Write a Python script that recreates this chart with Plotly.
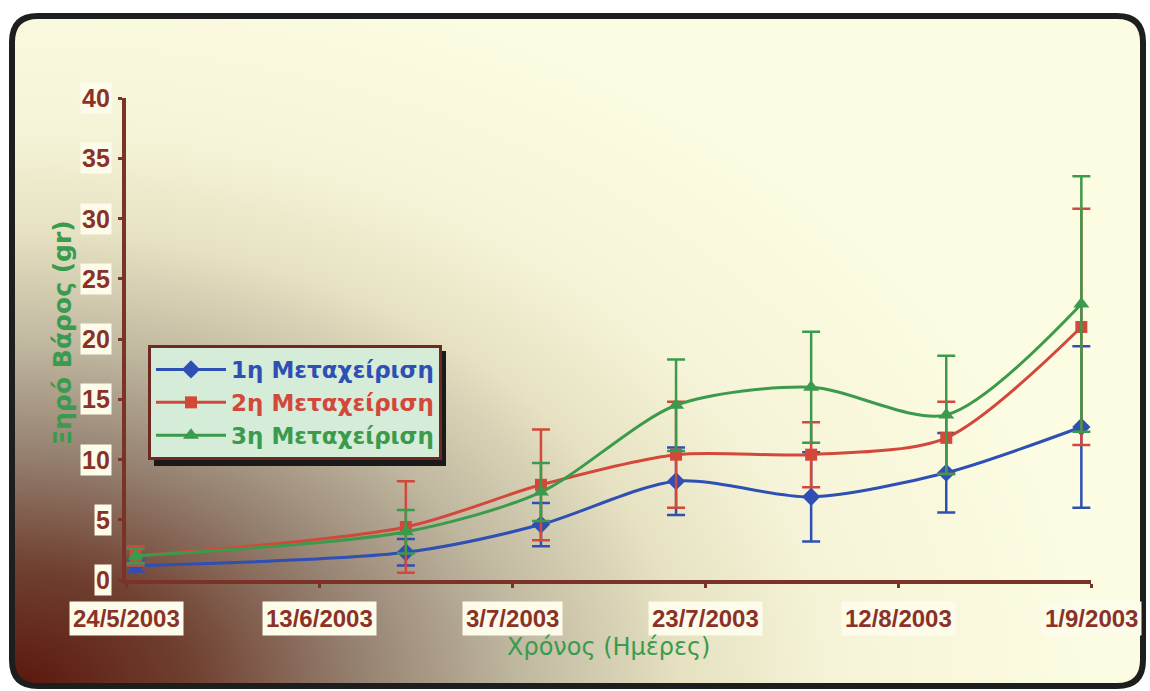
import base64
import struct
import zlib

import numpy as np
import plotly.graph_objects as go

# sampling dates and dry weight per treatment (mean, +/- error)
dates = ['2003-05-25', '2003-06-22', '2003-07-06', '2003-07-20',
         '2003-08-03', '2003-08-17', '2003-08-31']
names = ['1η Μεταχείριση', '2η Μεταχείριση', '3η Μεταχείριση']
t1 = [1.2, 2.3, 4.6, 8.2, 6.9, 8.9, 12.7]
e1 = [0.5, 1.1, 1.8, 2.8, 3.7, 3.3, 6.7]
t2 = [2.0, 4.4, 7.9, 10.4, 10.4, 11.8, 21.0]
e2 = [0.8, 3.8, 4.6, 4.4, 2.7, 3.0, 9.8]
t3 = [2.0, 4.0, 7.3, 14.5, 16.0, 13.7, 22.9]
e3 = [0.6, 1.8, 2.4, 3.8, 4.6, 4.9, 10.6]

x_ticks = ['2003-05-24', '2003-06-13', '2003-07-03', '2003-07-23', '2003-08-12', '2003-09-01']
x_labels = ['24/5/2003', '13/6/2003', '3/7/2003', '23/7/2003', '12/8/2003', '1/9/2003']
y_ticks = [0, 5, 10, 15, 20, 25, 30, 35, 40]

W, H = 1150, 691
ML, MR, MT, MB = 126, 59, 98, 111
PW, PH = W - ML - MR, H - MT - MB

AXIS = '#7b3328'
LABEL = '#8a3228'
GREEN_T = '#3a9a4e'
colors = ['#2e4fb4', '#d2483a', '#3c9a4c']
symbols = ['diamond', 'square', 'triangle-up']
sizes = [14, 12, 14]


def px(x):
    return (x - ML) / PW


def py(y):
    return (H - MB - y) / PH


def background_png():
    s = 2
    w, h = W // s, H // s
    xs = (np.arange(w) + 0.5) * s
    ys = (np.arange(h) + 0.5) * s
    X, Y = np.meshgrid(xs, ys)
    d = np.sqrt(((X - 10) / 820) ** 2 + ((H - Y) / 560) ** 2)
    stops = [0, 0.22, 0.42, 0.62, 0.82, 1.0, 1.3]
    cols = ['#5a160c', '#704030', '#958070', '#c0b8a0', '#e6e2c2', '#f6f4d8', '#fcfce2']
    rgb = np.array([[int(c[i:i + 2], 16) for i in (1, 3, 5)] for c in cols], float)
    img = np.zeros((h, w, 4), np.uint8)
    for k in range(3):
        img[:, :, k] = np.interp(d, stops, rgb[:, k]).astype(np.uint8)
    # rounded card mask
    x0, x1, y0, y1, r = 12, 1143, 16, 686, 26
    cx = np.clip(X, x0 + r, x1 - r)
    cy = np.clip(Y, y0 + r, y1 - r)
    inside = ((X - cx) ** 2 + (Y - cy) ** 2 <= r * r) & (X >= x0) & (X <= x1) & (Y >= y0) & (Y <= y1)
    img[:, :, 3] = np.where(inside, 255, 0)
    raw = b''.join(b'\x00' + row.tobytes() for row in img)

    def chunk(tag, data):
        c = struct.pack('>I', len(data)) + tag + data
        return c + struct.pack('>I', zlib.crc32(tag + data) & 0xffffffff)

    png = b'\x89PNG\r\n\x1a\n'
    png += chunk(b'IHDR', struct.pack('>IIBBBBB', w, h, 8, 6, 0, 0, 0))
    png += chunk(b'IDAT', zlib.compress(raw, 9))
    png += chunk(b'IEND', b'')
    return 'data:image/png;base64,' + base64.b64encode(png).decode()


fig = go.Figure()
for name, ys, es, c, sym, sz in zip(names, [t1, t2, t3], [e1, e2, e3], colors, symbols, sizes):
    fig.add_trace(go.Scatter(
        x=dates, y=ys,
        mode='lines+markers',
        name='<b><span style="color:%s">%s</span></b>' % (c, name),
        line=dict(color=c, width=3, shape='spline', smoothing=0.8),
        marker=dict(symbol=sym, size=sz, color=c),
        error_y=dict(type='data', array=es, color=c, thickness=2.5, width=9),
        hoverinfo='none',
    ))

# frame of the card (rounded corners)
x0, x1, y0, y1, r = 12, 1143, 16, 686, 26
frame = ('M {a},{b} L {c},{b} Q {e},{b} {e},{f} L {e},{g} Q {e},{h} {c},{h} '
         'L {a},{h} Q {i},{h} {i},{g} L {i},{f} Q {i},{b} {a},{b} Z').format(
    a=px(x0 + r), b=py(y0), c=px(x1 - r), e=px(x1), f=py(y0 + r),
    g=py(y1 - r), h=py(y1), i=px(x0))

shapes = [
    # legend shadow
    dict(type='rect', xref='paper', yref='paper', x0=px(154), x1=px(446),
         y0=py(466), y1=py(351), fillcolor='#1a1a1a', line=dict(width=0), layer='above'),
    dict(type='path', xref='paper', yref='paper', path=frame,
         line=dict(color='#1e1e1e', width=6), layer='above'),
]

annotations = []
for xv, lab in zip(x_ticks, x_labels):
    annotations.append(dict(x=xv, xref='x', y=0, yref='paper', yshift=-38, yanchor='middle',
                            text='<b>%s</b>' % lab, showarrow=False, bgcolor='#fdfbea', borderpad=3,
                            font=dict(family='Liberation Sans, Arial', size=24, color=LABEL)))
for yv in y_ticks:
    annotations.append(dict(x=px(112), xref='paper', xanchor='right', y=yv, yref='y', yanchor='middle',
                            text='<b>%d</b>' % yv, showarrow=False, bgcolor='#fdfbea', borderpad=1,
                            font=dict(family='Liberation Sans, Arial', size=25, color=LABEL)))
annotations.append(dict(x=px(45), y=py(333), xref='paper', yref='paper', textangle=-90,
                        text='<b>Ξηρό Βάρος (gr)</b>', showarrow=False,
                        font=dict(family='DejaVu Sans', size=25, color=GREEN_T)))
annotations.append(dict(x=px(608), y=py(663), xref='paper', yref='paper',
                        text='Χρόνος (Ημέρες)', showarrow=False,
                        font=dict(family='DejaVu Sans', size=24, color=GREEN_T)))

fig.update_layout(
    width=W, height=H,
    margin=dict(l=ML, r=MR, t=MT, b=MB),
    paper_bgcolor='white',
    plot_bgcolor='rgba(0,0,0,0)',
    showlegend=True,
    legend=dict(x=px(148), y=py(345), xanchor='left', yanchor='top',
                bgcolor='#d4ecd8', bordercolor='#6e2a20', borderwidth=3,
                font=dict(family='DejaVu Sans', size=23),
                itemwidth=70, tracegroupgap=0),
    shapes=shapes,
    annotations=annotations,
    images=[dict(source=background_png(), xref='paper', yref='paper',
                 x=px(0), y=py(0), sizex=W / PW, sizey=H / PH,
                 xanchor='left', yanchor='top', sizing='stretch', layer='below')],
)
fig.update_xaxes(type='date', range=['2003-05-24', '2003-09-01'], tickvals=x_ticks,
                 showticklabels=False, showgrid=False, zeroline=False,
                 showline=True, linecolor=AXIS, linewidth=4,
                 ticks='outside', ticklen=4, tickwidth=3, tickcolor=AXIS)
fig.update_yaxes(range=[0, 40], tickvals=y_ticks, showticklabels=False,
                 showgrid=False, zeroline=False,
                 showline=True, linecolor=AXIS, linewidth=4,
                 ticks='outside', ticklen=4, tickwidth=3, tickcolor=AXIS)

fig.write_html('out.html', config={'displayModeBar': False},
               post_script="document.body.style.margin='0';")
